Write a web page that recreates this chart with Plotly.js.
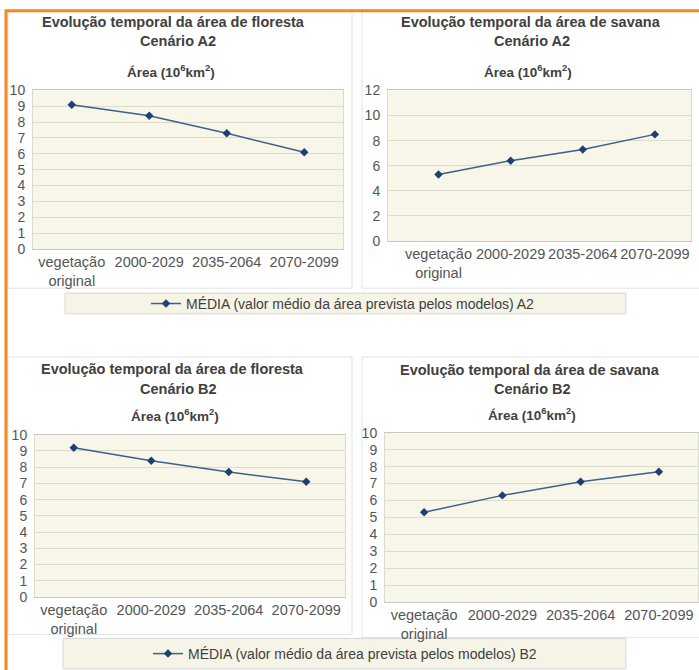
<!DOCTYPE html>
<html>
<head>
<meta charset="utf-8">
<script src="https://cdn.plot.ly/plotly-3.0.1.min.js"></script>
<style>html,body{margin:0;padding:0;background:#fff;}#chart{width:699px;height:670px;}</style>
</head>
<body>
<div id="chart"></div>
<script>
// ---- data ----
var categories = ['vegetação original', '2000-2029', '2035-2064', '2070-2099'];
var tickLabels = ['vegetação<br>original', '2000-2029', '2035-2064', '2070-2099'];
var florestaA2 = [9.1, 8.4, 7.3, 6.1];
var savanaA2   = [5.3, 6.4, 7.3, 8.5];
var florestaB2 = [9.2, 8.4, 7.7, 7.1];
var savanaB2   = [5.3, 6.3, 7.1, 7.7];
var seriesNameA2 = 'MÉDIA (valor médio da área prevista pelos modelos) A2';
var seriesNameB2 = 'MÉDIA (valor médio da área prevista pelos modelos) B2';
var titleFloresta = 'Evolução temporal da área de floresta';
var titleSavana = 'Evolução temporal da área de savana';
var subA2 = 'Cenário A2', subB2 = 'Cenário B2';
var areaLabel = 'Área (10<sup>6</sup>km<sup>2</sup>)';

// ---- helpers ----
var W = 699, H = 670;
function px(x){ return x / W; }
function py(y){ return 1 - y / H; }
var FONT = 'Liberation Sans, Arial, sans-serif';
var lineColor = '#3f5f8c', markerColor = '#1f3f73';

function trace(y, xa, ya, name, show, leg){
  return {
    x: categories, y: y, xaxis: xa, yaxis: ya, type: 'scatter', mode: 'lines+markers',
    name: name, showlegend: show, legend: leg,
    line: {color: lineColor, width: 1.5},
    marker: {color: markerColor, size: 6.5, symbol: 'diamond'},
    hoverinfo: 'x+y'
  };
}
var data = [
  trace(florestaA2, 'x', 'y', seriesNameA2, true, 'legend'),
  trace(savanaA2, 'x2', 'y2', seriesNameA2, false, 'legend'),
  trace(florestaB2, 'x3', 'y3', seriesNameB2, true, 'legend2'),
  trace(savanaB2, 'x4', 'y4', seriesNameB2, false, 'legend2')
];

function xax(x0, x1, anchor, range){
  return {
    domain: [px(x0), px(x1)], anchor: anchor, type: 'category',
    range: range || [-0.5, 3.5], autorange: false,
    tickvals: categories, ticktext: tickLabels,
    tickfont: {family: FONT, size: 14.5, color: '#555'},
    showgrid: false, zeroline: false,
    showline: true, linecolor: '#c8c8c0', mirror: true, linewidth: 1,
    ticks: '', fixedrange: true
  };
}
function yax(y0, y1, anchor, max, dt){
  return {
    domain: [py(y1), py(y0)], anchor: anchor, range: [0, max], dtick: dt,
    tickfont: {family: FONT, size: 14, color: '#555'},
    showgrid: true, gridcolor: '#dcdccd', gridwidth: 1, zeroline: false,
    showline: true, linecolor: '#dcdccd', mirror: true,
    ticks: 'outside', ticklen: 4, tickcolor: 'rgba(0,0,0,0)', fixedrange: true
  };
}

function ann(text, x, y, size, bold){
  return {
    text: bold ? '<b>' + text + '</b>' : text, xref: 'paper', yref: 'paper',
    x: px(x), y: py(y), xanchor: 'center', yanchor: 'middle', showarrow: false,
    font: {family: FONT, size: size, color: '#404040'}
  };
}

function rect(x0, y0, x1, y1, line, fill, width){
  return {type: 'rect', xref: 'paper', yref: 'paper', layer: 'below',
    x0: px(x0), x1: px(x1), y0: py(y1), y1: py(y0),
    line: {color: line, width: width || 1}, fillcolor: fill || 'rgba(0,0,0,0)'};
}

var layout = {
  width: W, height: H, margin: {l: 0, r: 0, t: 0, b: 0},
  paper_bgcolor: '#ffffff', plot_bgcolor: '#f7f6e9',
  font: {family: FONT, color: '#404040'},
  xaxis:  xax(33, 343, 'y'),
  yaxis:  yax(92, 253, 'x', 10, 1),
  xaxis2: xax(388, 691, 'y2', [-0.7, 3.5]),
  yaxis2: yax(92, 245, 'x2', 12, 2),
  xaxis3: xax(35, 345, 'y3'),
  yaxis3: yax(442, 607, 'x3', 10, 1),
  xaxis4: xax(385, 698, 'y4'),
  yaxis4: yax(440, 612, 'x4', 10, 1),
  legend: {x: px(343), y: py(309), xanchor: 'center', yanchor: 'middle',
    orientation: 'h', bgcolor: 'rgba(0,0,0,0)', borderwidth: 0,
    font: {family: FONT, size: 14, color: '#404040'}},
  legend2: {x: px(345), y: py(649), xanchor: 'center', yanchor: 'top',
    orientation: 'h', bgcolor: 'rgba(0,0,0,0)', borderwidth: 0,
    font: {family: FONT, size: 14, color: '#404040'}},
  annotations: [
    ann(titleFloresta, 173, 22, 14.5, true),
    ann(subA2, 178, 42, 14.5, true),
    ann(areaLabel, 171, 72, 13.5, true),
    ann(titleSavana, 531, 22, 14.5, true),
    ann(subA2, 532, 42, 14.5, true),
    ann(areaLabel, 528, 72, 13.5, true),
    ann(titleFloresta, 172, 375, 14.5, true),
    ann(subB2, 178, 395, 14.5, true),
    ann(areaLabel, 175, 422, 13.5, true),
    ann(titleSavana, 530, 376, 14.5, true),
    ann(subB2, 532, 395, 14.5, true),
    ann(areaLabel, 532, 421, 13.5, true)
  ],
  shapes: [
    rect(8, 12, 352, 293, '#e3e3e3'),
    rect(362, 12, 710, 293, '#e3e3e3'),
    rect(8, 363, 352, 645, '#e3e3e3'),
    rect(362, 363, 710, 648, '#e3e3e3'),
    rect(65, 298, 626, 319, '#d6d6d6', '#f5f4e6'),
    rect(63, 649, 626, 680, '#d6d6d6', '#f5f4e6'),
    {type: 'rect', xref: 'paper', yref: 'paper', layer: 'above',
      x0: px(6), x1: px(720), y0: py(700), y1: py(11),
      line: {color: '#f08a24', width: 3}, fillcolor: 'rgba(0,0,0,0)'}
  ]
};

Plotly.newPlot('chart', data, layout, {displayModeBar: false, staticPlot: true});
</script>
</body>
</html>
